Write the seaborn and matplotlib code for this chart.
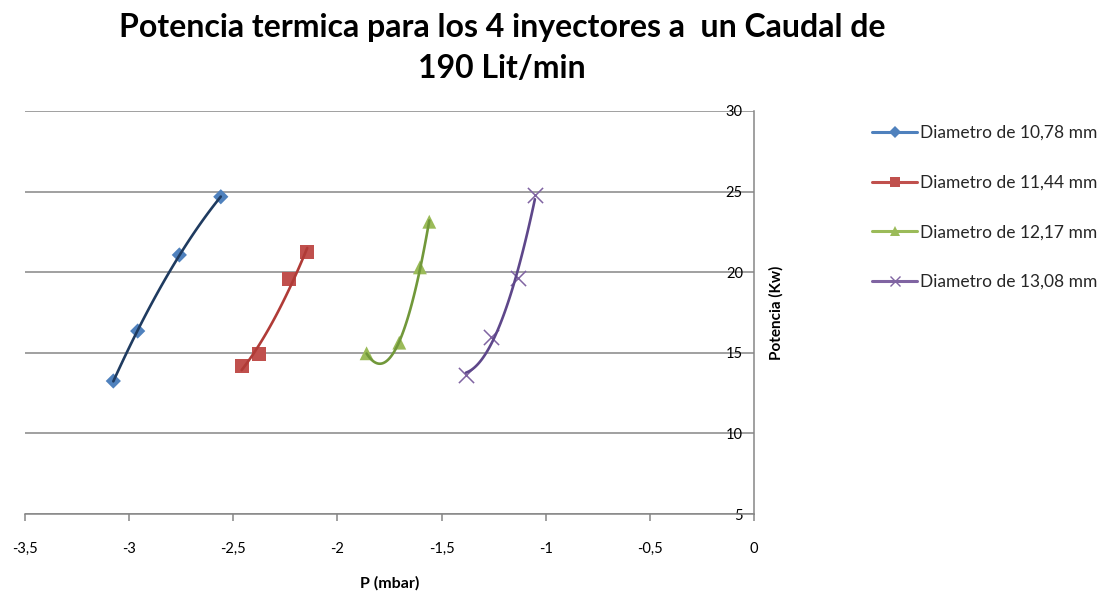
import numpy as np
import pandas as pd
import matplotlib
matplotlib.use("Agg")
import matplotlib.pyplot as plt
from matplotlib.lines import Line2D
from matplotlib.ticker import FixedLocator, FixedFormatter
import seaborn as sns

# Measured pressure (mbar) and thermal power (kW) for each injector diameter
series_labels = ["Diametro de 10,78 mm", "Diametro de 11,44 mm",
                 "Diametro de 12,17 mm", "Diametro de 13,08 mm"]
p_1078 = [-3.076, -2.959, -2.759, -2.560]
w_1078 = [13.25, 16.35, 21.07, 24.68]
p_1144 = [-2.460, -2.375, -2.231, -2.145]
w_1144 = [14.20, 14.91, 19.56, 21.23]
p_1217 = [-1.860, -1.703, -1.604, -1.559]
w_1217 = [14.97, 15.63, 20.30, 23.13]
p_1308 = [-1.383, -1.263, -1.132, -1.052]
w_1308 = [13.62, 15.96, 19.66, 24.79]

x_ticks = [-3.5, -3.0, -2.5, -2.0, -1.5, -1.0, -0.5, 0.0]
x_tick_labels = ["-3,5", "-3", "-2,5", "-2", "-1,5", "-1", "-0,5", "0"]
y_ticks = [5, 10, 15, 20, 25, 30]

marker_colors = ["#4F81BD", "#C0504D", "#9BBB59", "#8064A2"]
curve_colors = ["#1F3B60", "#B03B37", "#71983A", "#5E478A"]
markers = ["D", "s", "^", "x"]
marker_sizes = [60, 100, 100, 120]

sns.set_theme(style="white")
plt.rcParams["font.family"] = ["Lato", "DejaVu Sans"]

fig = plt.figure(figsize=(11.09, 5.95), dpi=100)
ax = fig.add_axes([25 / 1109, 1 - 514 / 595, (754 - 25) / 1109, (514 - 111) / 595])

pressures = [p_1078, p_1144, p_1217, p_1308]
powers = [w_1078, w_1144, w_1217, w_1308]

handles = []
for i in range(4):
    df = pd.DataFrame({"P": pressures[i], "W": powers[i]})
    mk = markers[i]
    kw = dict(color=marker_colors[i], marker=mk, s=marker_sizes[i], zorder=3)
    if mk == "x":
        kw.update(linewidth=1.1)
    else:
        kw.update(edgecolor="none")
    sns.scatterplot(data=df, x="P", y="W", ax=ax, legend=False, **kw)
    # Second-order polynomial trend over the measured range
    sns.regplot(data=df, x="P", y="W", ax=ax, order=2, ci=None, scatter=False,
                truncate=True, line_kws=dict(color=curve_colors[i], lw=1.9, zorder=4))
    handles.append(Line2D([0], [0], color=marker_colors[i], lw=2.2, marker=mk,
                          markersize=7.5 if mk != "D" else 6,
                          markeredgewidth=1.0 if mk == "x" else 0,
                          markerfacecolor=marker_colors[i],
                          markeredgecolor=marker_colors[i]))

ax.set_xlim(-3.5, 0)
ax.set_ylim(5, 30)
ax.xaxis.set_major_locator(FixedLocator(x_ticks))
ax.xaxis.set_major_formatter(FixedFormatter(x_tick_labels))
ax.set_yticks(y_ticks)
ax.set_yticklabels([str(v) for v in y_ticks])

grid_c = "#868686"
ax.yaxis.grid(True, color=grid_c, lw=1.1)
ax.xaxis.grid(False)
for side in ["left", "top"]:
    ax.spines[side].set_visible(False)
for side in ["right", "bottom"]:
    ax.spines[side].set_visible(True)
    ax.spines[side].set_color(grid_c)
    ax.spines[side].set_linewidth(1.1)

ax.tick_params(axis="x", bottom=True, direction="out", length=5, width=1.1,
               color=grid_c, pad=15, labelsize=10.5, labelcolor="black")
ax.tick_params(axis="y", left=False, right=False, labelleft=False, labelright=True,
               pad=-8, labelsize=10.5, labelcolor="black", length=0)
for lab in ax.get_yticklabels():
    lab.set_horizontalalignment("right")

ax.set_xlabel("P (mbar)", fontsize=11.5, fontweight="bold", color="black")
ax.xaxis.set_label_coords(0.5, -(583 - 514) / (514 - 111))
ax.xaxis.label.set_va("center")
ax.set_ylabel("Potencia (Kw)", fontsize=11, fontweight="bold", color="black")
ax.yaxis.set_label_position("right")
ax.yaxis.label.set_rotation(90)
ax.yaxis.label.set_va("center")
ax.yaxis.label.set_ha("center")
ax.yaxis.set_label_coords(1 + 22 / 729, 0.5)

fig.text(502 / 1109, 1 - 13 / 595,
         "Potencia termica para los 4 inyectores a  un Caudal de\n190 Lit/min",
         ha="center", va="top", fontsize=23, fontweight="bold", linespacing=1.5,
         multialignment="center", color="black")

fig.legend(handles, series_labels, loc="upper left",
           bbox_to_anchor=(872 / 1109, 1 - 125 / 595), frameon=False,
           fontsize=12.5, handlelength=2.6, handletextpad=0.15, labelspacing=1.94,
           borderaxespad=0, borderpad=0)

fig.savefig("out.png", dpi=100)
